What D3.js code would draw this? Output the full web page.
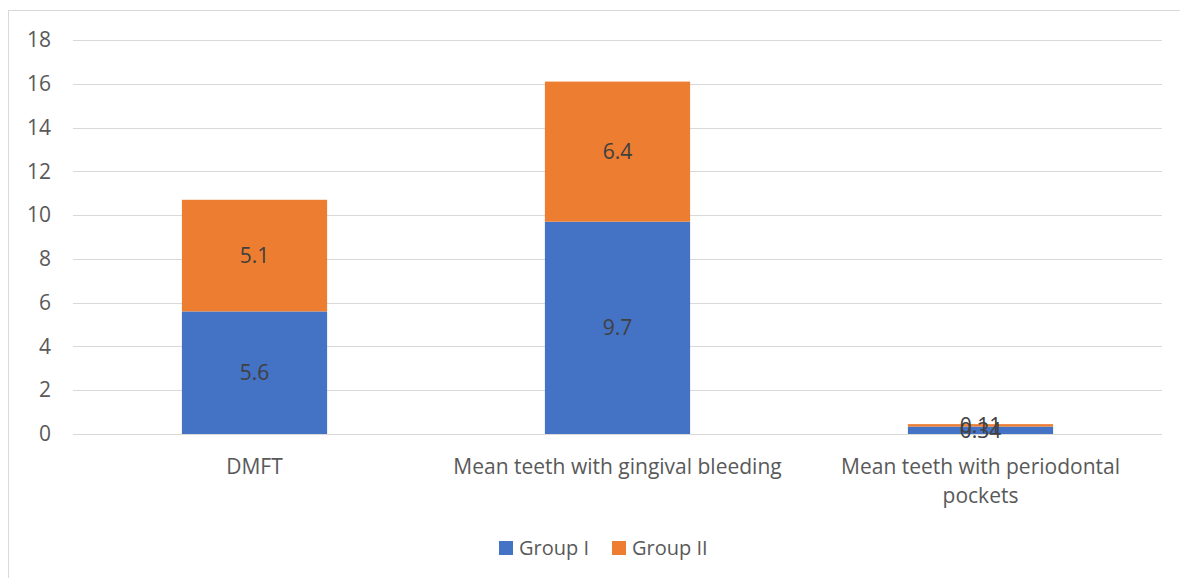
<!DOCTYPE html>
<html>
<head>
<meta charset="utf-8">
<script src="https://cdn.jsdelivr.net/npm/d3@7"></script>
<style>
  html, body { margin: 0; padding: 0; background: #fff; }
  svg { display: block; font-family: "Open Sans", sans-serif; }
</style>
</head>
<body>
<svg id="chart" width="1180" height="578"></svg>
<script>
// Stacked bar data
const categories = ["DMFT", "Mean teeth with gingival bleeding", "Mean teeth with periodontal pockets"];
const seriesNames = ["Group I", "Group II"];
const groupI = [5.6, 9.7, 0.34];
const groupII = [5.1, 6.4, 0.11];
const yTicks = [0, 2, 4, 6, 8, 10, 12, 14, 16, 18];
const colors = ["#4472C4", "#ED7D31"];

const svg = d3.select("#chart");
const W = 1180, H = 578;
const margin = { left: 73, right: 18, top: 40, bottom: 144 };
const FONT = "\"Open Sans\", sans-serif";
const FS = "21px";

// Chart frame
svg.append("rect")
  .attr("x", 8.5).attr("y", 10.5)
  .attr("width", W + 10).attr("height", H + 10)
  .attr("fill", "#fff").attr("stroke", "#d9d9d9").attr("stroke-width", 1);

const x = d3.scaleBand()
  .domain(categories)
  .range([margin.left, W - margin.right])
  .paddingInner(0.6).paddingOuter(0.3);

const y = d3.scaleLinear()
  .domain([0, 18])
  .range([H - margin.bottom, margin.top]);

// Gridlines
svg.append("g").selectAll("line").data(yTicks).join("line")
  .attr("x1", margin.left).attr("x2", W - margin.right)
  .attr("y1", d => Math.round(y(d)) + 0.5).attr("y2", d => Math.round(y(d)) + 0.5)
  .attr("stroke", "#d9d9d9").attr("stroke-width", 1);

// Y axis labels
const yAxis = d3.axisLeft(y).tickValues(yTicks).tickSize(0).tickPadding(0);
const yg = svg.append("g").attr("transform", `translate(${margin.left - 22},0)`).call(yAxis);
yg.select(".domain").remove();
yg.selectAll("text").attr("fill", "#595959").style("font-size", FS).style("font-family", FONT);

// Stack
const rows = categories.map((c, i) => ({ cat: c, "Group I": groupI[i], "Group II": groupII[i] }));
const stacked = d3.stack().keys(seriesNames)(rows);

const layers = svg.append("g").selectAll("g").data(stacked).join("g")
  .attr("fill", (d, i) => colors[i]);

layers.selectAll("rect").data(d => d).join("rect")
  .attr("x", d => x(d.data.cat))
  .attr("width", x.bandwidth())
  .attr("y", d => y(d[1]))
  .attr("height", d => y(d[0]) - y(d[1]));

// Data labels centred in each segment
const labels = svg.append("g");
stacked.forEach(layer => {
  layer.forEach(d => {
    labels.append("text")
      .attr("x", x(d.data.cat) + x.bandwidth() / 2)
      .attr("y", y((d[0] + d[1]) / 2))
      .attr("dy", "0.35em")
      .attr("text-anchor", "middle")
      .attr("fill", "#404040")
      .style("font-size", FS)
      .text(+(d[1] - d[0]).toFixed(2));
  });
});

// Category axis
const xAxis = d3.axisBottom(x).tickSize(0).tickPadding(0);
const xg = svg.append("g").attr("transform", `translate(0,${H - margin.bottom})`).call(xAxis);
xg.select(".domain").remove();
xg.selectAll("text")
  .attr("fill", "#595959").style("font-size", FS).style("font-family", FONT)
  .attr("y", 40).attr("dy", 0)
  .call(wrap, 345);

function wrap(sel, width) {
  sel.each(function () {
    const t = d3.select(this);
    const words = t.text().split(/\s+/);
    const yy = +t.attr("y");
    t.text(null);
    let line = [];
    let lineNo = 0;
    let tspan = t.append("tspan").attr("x", 0).attr("y", yy);
    words.forEach(w => {
      line.push(w);
      tspan.text(line.join(" "));
      if (tspan.node().getComputedTextLength() > width && line.length > 1) {
        line.pop();
        tspan.text(line.join(" "));
        line = [w];
        lineNo++;
        tspan = t.append("tspan").attr("x", 0).attr("y", yy + lineNo * 29).text(w);
      }
    });
  });
}

// Legend
const legend = svg.append("g").attr("transform", "translate(499,541)");
const legendX = [0, 113];
seriesNames.forEach((n, i) => {
  const g = legend.append("g").attr("transform", `translate(${legendX[i]},0)`);
  g.append("rect").attr("width", 14).attr("height", 14).attr("fill", colors[i]);
  g.append("text").attr("x", 20).attr("y", 7).attr("dy", "0.35em")
    .attr("fill", "#595959").style("font-size", "20px").text(n);
});
</script>
</body>
</html>
